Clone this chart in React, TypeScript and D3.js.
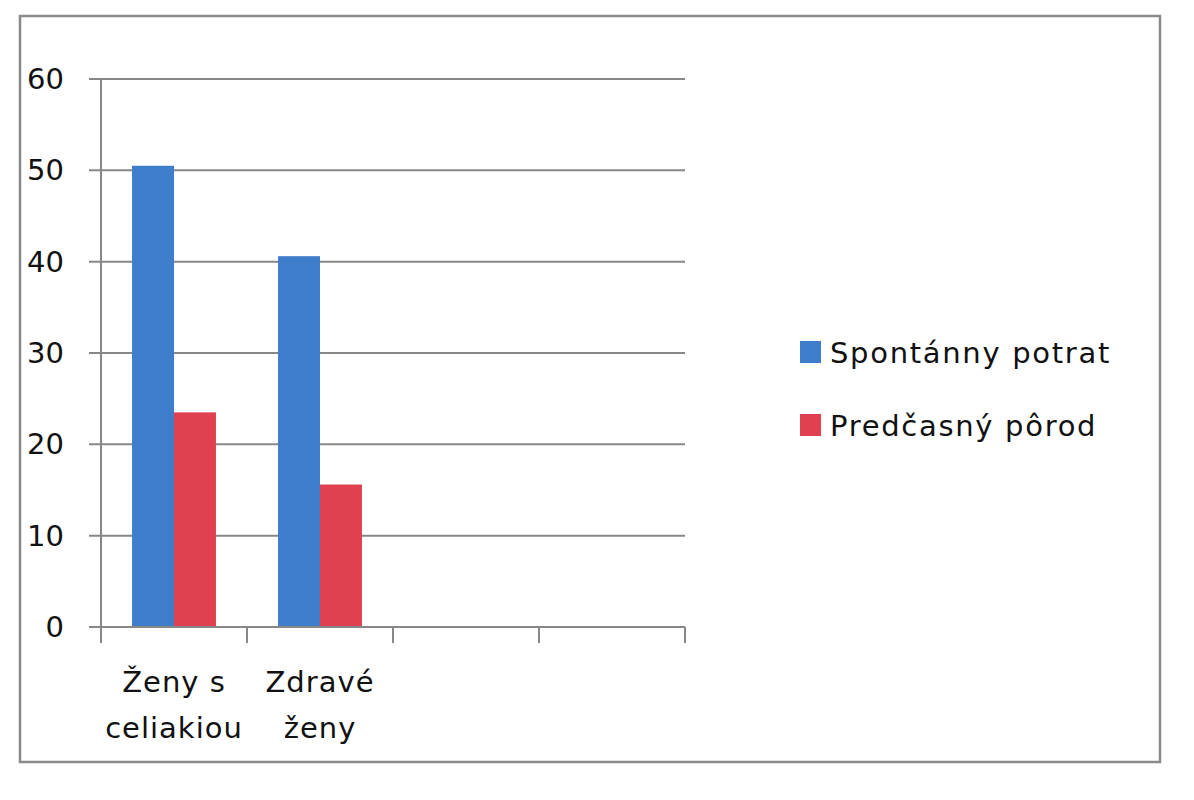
import { useEffect, useRef } from "react";
import * as d3 from "d3";

const categories = ["c1", "c2", "c3", "c4"];
const categoryLabels = [["Ženy s", "celiakiou"], ["Zdravé", "ženy"], [], []];
const seriesNames = ["Spontánny potrat", "Predčasný pôrod"];
const seriesColors = ["#3E7DCA", "#E0404F"];
const spontanny = [50.5, 40.6, null, null];
const predcasny = [23.5, 15.6, null, null];
const yTicks = [0, 10, 20, 30, 40, 50, 60];

const width = 1194;
const height = 800;

export default function App() {
  const svgRef = useRef<SVGSVGElement>(null);

  useEffect(() => {
    if (!svgRef.current) return;
    const svg = d3.select(svgRef.current);
    svg.selectAll("*").remove();

    const font = "'DejaVu Sans', Verdana, sans-serif";
    const plot = { left: 101, right: 685, top: 79, bottom: 627 };

    // outer frame
    svg.append("rect")
      .attr("x", 20).attr("y", 16)
      .attr("width", 1140).attr("height", 746)
      .attr("fill", "white")
      .attr("stroke", "#8a8a8a")
      .attr("stroke-width", 2.5);

    const x0 = d3.scaleBand<string>()
      .domain(categories)
      .range([plot.left, plot.right])
      .padding(0);

    const x1 = d3.scaleBand<string>()
      .domain(seriesNames)
      .range([0, x0.bandwidth()])
      .paddingInner(0)
      .paddingOuter(0.74);

    const y = d3.scaleLinear()
      .domain([0, 60])
      .range([plot.bottom, plot.top]);

    // gridlines + y ticks
    svg.append("g")
      .selectAll("line")
      .data(yTicks)
      .join("line")
      .attr("x1", plot.left - 12)
      .attr("x2", plot.right)
      .attr("y1", d => y(d))
      .attr("y2", d => y(d))
      .attr("stroke", "#878787")
      .attr("stroke-width", 2);

    svg.append("g")
      .selectAll("text")
      .data(yTicks)
      .join("text")
      .attr("x", 64)
      .attr("y", d => y(d) + 10)
      .attr("text-anchor", "end")
      .attr("font-family", font)
      .attr("font-size", 29)
      .attr("fill", "#111")
      .text(d => d);

    // bars
    const series = [spontanny, predcasny];
    series.forEach((vals, si) => {
      svg.append("g")
        .selectAll("rect")
        .data(vals.map((v, i) => ({ cat: categories[i], v })).filter(d => d.v !== null))
        .join("rect")
        .attr("x", d => (x0(d.cat) as number) + (x1(seriesNames[si]) as number))
        .attr("y", d => y(d.v as number))
        .attr("width", x1.bandwidth())
        .attr("height", d => y(0) - y(d.v as number))
        .attr("fill", seriesColors[si]);
    });

    // y axis line
    svg.append("line")
      .attr("x1", plot.left).attr("x2", plot.left)
      .attr("y1", plot.top).attr("y2", plot.bottom)
      .attr("stroke", "#878787")
      .attr("stroke-width", 2);

    // x axis line and ticks
    svg.append("line")
      .attr("x1", plot.left).attr("x2", plot.right)
      .attr("y1", plot.bottom).attr("y2", plot.bottom)
      .attr("stroke", "#878787")
      .attr("stroke-width", 2);

    const tickXs = categories.map(c => x0(c) as number).concat([plot.right]);
    svg.append("g")
      .selectAll("line")
      .data(tickXs)
      .join("line")
      .attr("x1", d => d).attr("x2", d => d)
      .attr("y1", plot.bottom).attr("y2", plot.bottom + 16)
      .attr("stroke", "#878787")
      .attr("stroke-width", 2);

    // category labels
    categories.forEach((c, i) => {
      const cx = (x0(c) as number) + x0.bandwidth() / 2;
      categoryLabels[i].forEach((line, li) => {
        svg.append("text")
          .attr("x", cx)
          .attr("y", 692 + li * 46)
          .attr("text-anchor", "middle")
          .attr("font-family", font)
          .attr("font-size", 29)
          .attr("letter-spacing", 1)
          .attr("fill", "#111")
          .text(line);
      });
    });

    // legend
    seriesNames.forEach((name, i) => {
      const ly = 341 + i * 73;
      svg.append("rect")
        .attr("x", 800).attr("y", ly)
        .attr("width", 21).attr("height", 22)
        .attr("fill", seriesColors[i]);
      svg.append("text")
        .attr("x", 830)
        .attr("y", ly + 22)
        .attr("font-family", font)
        .attr("font-size", 29)
        .attr("letter-spacing", 1.7)
        .attr("fill", "#111")
        .text(name);
    });
  }, []);

  return (
    <svg
      ref={svgRef}
      width={width}
      height={height}
      style={{ position: "absolute", left: 0, top: 0, background: "white" }}
    />
  );
}
